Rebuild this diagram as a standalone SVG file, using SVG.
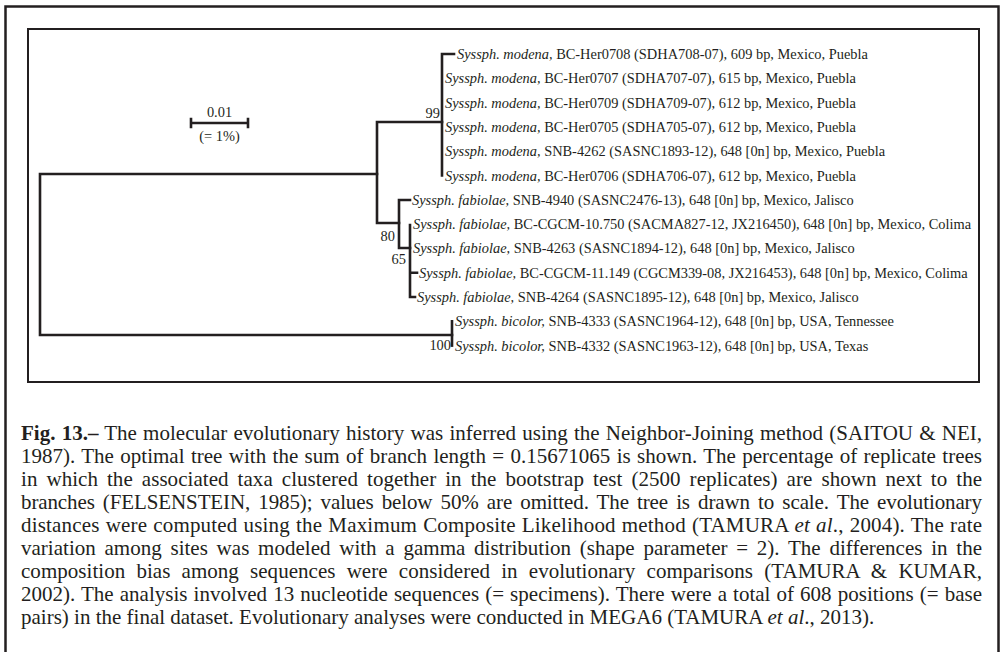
<svg xmlns="http://www.w3.org/2000/svg" width="1001" height="652" viewBox="0 0 1001 652">
<style>
text{font-family:"Liberation Serif","Times New Roman",serif;fill:#231f20}
.lab{font-size:14.4px}
.it{font-style:italic}
.cap{font-size:21px}
.b{font-weight:bold}
.br{fill:none;stroke:#231f20;stroke-width:2.6;stroke-linecap:square}
.frame{fill:none;stroke:#231f20}
</style>
<rect width="1001" height="652" fill="#fff"/>
<rect class="frame" x="5.5" y="6.5" width="993" height="660" stroke-width="2.5"/>
<rect class="frame" x="28" y="29" width="951" height="353" stroke-width="2"/>

<g id="scale">
<path class="br" d="M191 123H248M191 119V127M248 119V127" stroke-width="2.4" stroke-linecap="butt"/>
<text class="lab" x="219.5" y="117" text-anchor="middle">0.01</text>
<text class="lab" x="219.5" y="141" text-anchor="middle">(= 1%)</text>
</g>

<g id="connectors">
<path class="br" d="M40 174V335M40 174H377M40 335H452"/>
<path class="br" d="M377 122V223M377 122H442M377 223H399"/>
<path class="br" d="M442 54V175.5M442 54H454"/>
<path class="br" d="M399 200V248M399 200H410M399 248H410"/>
<path class="br" d="M410 225V297M410 272.7H417M410 297H415"/>
<path class="br" d="M452 321.3V345.6"/>
</g>

<g id="bootstrap" class="lab">
<text x="440" y="118" text-anchor="end">99</text>
<text x="395" y="241" text-anchor="end">80</text>
<text x="406" y="264" text-anchor="end">65</text>
<text x="451" y="350" text-anchor="end">100</text>
</g>

<g id="taxa" class="lab">
<text id="t1" x="457" y="59"><tspan class="it">Syssph. modena,</tspan> BC-Her0708 (SDHA708-07), 609 bp, Mexico, Puebla</text>
<text id="t2" x="445" y="83.3"><tspan class="it">Syssph. modena,</tspan> BC-Her0707 (SDHA707-07), 615 bp, Mexico, Puebla</text>
<text id="t3" x="445" y="107.6"><tspan class="it">Syssph. modena,</tspan> BC-Her0709 (SDHA709-07), 612 bp, Mexico, Puebla</text>
<text id="t4" x="445" y="131.9"><tspan class="it">Syssph. modena,</tspan> BC-Her0705 (SDHA705-07), 612 bp, Mexico, Puebla</text>
<text id="t5" x="445" y="156.2"><tspan class="it">Syssph. modena,</tspan> SNB-4262 (SASNC1893-12), 648 [0n] bp, Mexico, Puebla</text>
<text id="t6" x="445" y="180.5"><tspan class="it">Syssph. modena,</tspan> BC-Her0706 (SDHA706-07), 612 bp, Mexico, Puebla</text>
<text id="t7" x="412" y="204.8"><tspan class="it">Syssph. fabiolae,</tspan> SNB-4940 (SASNC2476-13), 648 [0n] bp, Mexico, Jalisco</text>
<text id="t8" x="413" y="229.1"><tspan class="it">Syssph. fabiolae,</tspan> BC-CGCM-10.750 (SACMA827-12, JX216450), 648 [0n] bp, Mexico, Colima</text>
<text id="t9" x="413" y="253.4"><tspan class="it">Syssph. fabiolae,</tspan> SNB-4263 (SASNC1894-12), 648 [0n] bp, Mexico, Jalisco</text>
<text id="t10" x="419" y="277.7"><tspan class="it">Syssph. fabiolae,</tspan> BC-CGCM-11.149 (CGCM339-08, JX216453), 648 [0n] bp, Mexico, Colima</text>
<text id="t11" x="417" y="302"><tspan class="it">Syssph. fabiolae,</tspan> SNB-4264 (SASNC1895-12), 648 [0n] bp, Mexico, Jalisco</text>
<text id="t12" x="455" y="326.3"><tspan class="it">Syssph. bicolor,</tspan> SNB-4333 (SASNC1964-12), 648 [0n] bp, USA, Tennessee</text>
<text id="t13" x="455" y="350.6"><tspan class="it">Syssph. bicolor,</tspan> SNB-4332 (SASNC1963-12), 648 [0n] bp, USA, Texas</text>
</g>

<g id="caption" class="cap">
<text x="21" y="440" word-spacing="0.9" textLength="961" lengthAdjust="spacing"><tspan class="b">Fig. 13.–</tspan> The molecular evolutionary history was inferred using the Neighbor-Joining method (SAITOU &amp; NEI,</text>
<text x="21" y="463" word-spacing="1.1" textLength="961" lengthAdjust="spacing">1987). The optimal tree with the sum of branch length = 0.15671065 is shown. The percentage of replicate trees</text>
<text x="21" y="486" word-spacing="3.7" textLength="961" lengthAdjust="spacing">in which the associated taxa clustered together in the bootstrap test (2500 replicates) are shown next to the</text>
<text x="21" y="509" word-spacing="3" textLength="961" lengthAdjust="spacing">branches (FELSENSTEIN, 1985); values below 50% are omitted. The tree is drawn to scale. The evolutionary</text>
<text x="21" y="532" word-spacing="0.7" textLength="961" lengthAdjust="spacing">distances were computed using the Maximum Composite Likelihood method (TAMURA <tspan class="it">et al</tspan>., 2004). The rate</text>
<text x="21" y="555" word-spacing="3.5" textLength="961" lengthAdjust="spacing">variation among sites was modeled with a gamma distribution (shape parameter = 2). The differences in the</text>
<text x="21" y="578" word-spacing="5.9" textLength="961" lengthAdjust="spacing">composition bias among sequences were considered in evolutionary comparisons (TAMURA &amp; KUMAR,</text>
<text x="21" y="601" word-spacing="0.8" textLength="961" lengthAdjust="spacing">2002). The analysis involved 13 nucleotide sequences (= specimens). There were a total of 608 positions (= base</text>
<text x="21" y="624">pairs) in the final dataset. Evolutionary analyses were conducted in MEGA6 (TAMURA <tspan class="it">et al</tspan>., 2013).</text>
</g>
</svg>
